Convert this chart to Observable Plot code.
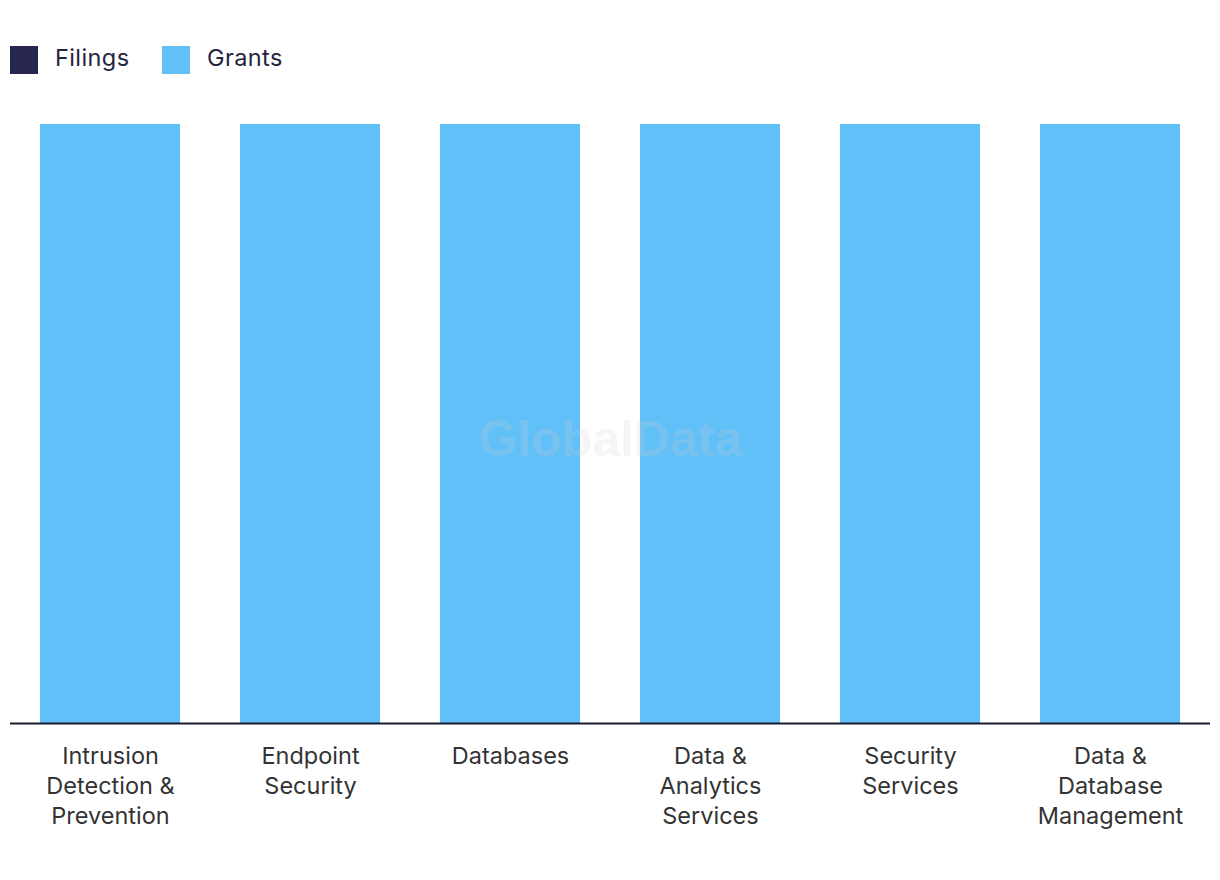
<!DOCTYPE html>
<html>
<head>
<meta charset="utf-8">
<script src="https://cdn.jsdelivr.net/npm/d3@7"></script>
<script src="https://cdn.jsdelivr.net/npm/@observablehq/plot@0.6"></script>
<style>
  html, body { margin: 0; padding: 0; background: #fff; }
  body { width: 1220px; font-family: Inter, "Noto Sans", sans-serif; }
  .legend { height: 100px; position: relative; }
  .item { position: absolute; top: 46px; height: 28px; display: flex; align-items: center; font-size: 23.5px; color: #24243f; }
  .item span { position: relative; top: -3px; letter-spacing: 0.4px; }
  .sw { width: 28px; height: 28px; margin-right: 17px; }
  svg { display: block; }
</style>
</head>
<body>
<div class="legend" id="legend"></div>
<div id="chart"></div>
<script>
const categories = [
  "Intrusion\nDetection &\nPrevention",
  "Endpoint\nSecurity",
  "Databases",
  "Data &\nAnalytics\nServices",
  "Security\nServices",
  "Data &\nDatabase\nManagement"
];
const seriesNames = ["Filings", "Grants"];
const seriesColors = ["#26264f", "#62c0f8"];
const filings = [0, 0, 0, 0, 0, 0];
const grants = [100, 100, 100, 100, 100, 100];

// legend
const legend = document.getElementById("legend");
const legendX = [10, 162];
seriesNames.forEach((s, i) => {
  const d = document.createElement("div");
  d.className = "item";
  d.style.left = legendX[i] + "px";
  d.innerHTML = `<div class="sw" style="background:${seriesColors[i]}"></div><span>${s}</span>`;
  legend.appendChild(d);
});

const data = [];
categories.forEach((c, i) => {
  data.push({category: c, series: "Filings", value: filings[i]});
  data.push({category: c, series: "Grants", value: grants[i]});
});

const chart = Plot.plot({
  width: 1220,
  height: 780,
  marginTop: 24,
  marginBottom: 157,
  marginLeft: 10,
  marginRight: 10,
  style: {fontFamily: "Inter, 'Noto Sans', sans-serif", background: "#fff"},
  x: {domain: categories, paddingInner: 0.3, paddingOuter: 0.15, label: null},
  y: {domain: [0, 100], axis: null},
  color: {domain: seriesNames, range: seriesColors},
  marks: [
    Plot.barY(data, {x: "category", y: "value", fill: "series", order: seriesNames}),
    Plot.ruleY([0], {stroke: "#1a1a2e", strokeWidth: 2}),
    Plot.axisX({tickSize: 0, tickPadding: 19, fontSize: 23.5, lineHeight: 1.28, fill: "#333", label: null}),
    Plot.text(["GlobalData"], {frameAnchor: "middle", dy: 16, text: d => d, fontSize: 50, fontWeight: "bold", fontFamily: "'Liberation Sans', Arial, sans-serif", fill: "#cccccc", fillOpacity: 0.2})
  ]
});
document.getElementById("chart").appendChild(chart);
</script>
</body>
</html>
